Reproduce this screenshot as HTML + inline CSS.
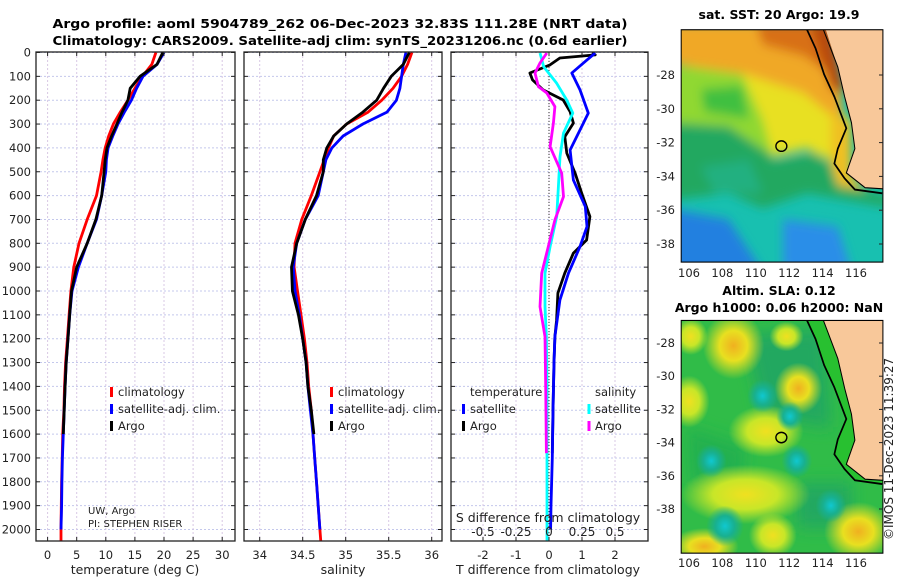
<!DOCTYPE html>
<html><head><meta charset="utf-8">
<style>
html,body{margin:0;padding:0;background:#fff;}
svg{display:block;font-family:"DejaVu Sans","Liberation Sans",sans-serif;}
.t{font-size:11.5px;fill:#222;}
.ti{font-size:12.5px;font-weight:bold;fill:#000;}
</style></head>
<body>
<svg id="fig" width="900" height="580" viewBox="0 0 900 580" xmlns="http://www.w3.org/2000/svg">
<defs>
  <clipPath id="c1"><rect x="36" y="52" width="199" height="489"/></clipPath>
  <clipPath id="c2"><rect x="244" y="52" width="198" height="489"/></clipPath>
  <clipPath id="c3"><rect x="451" y="52" width="197" height="489"/></clipPath>
  <clipPath id="m1c"><rect x="62" y="80" width="590" height="625"/></clipPath>
  <clipPath id="m2c"><rect x="62" y="862" width="590" height="626"/></clipPath>
  <filter id="bl" x="-20%" y="-20%" width="140%" height="140%"><feGaussianBlur stdDeviation="14"/></filter>
  <filter id="bl2" x="-50%" y="-50%" width="200%" height="200%"><feGaussianBlur stdDeviation="22"/></filter>
  <radialGradient id="gy"><stop offset="0" stop-color="#f0b020"/><stop offset="0.45" stop-color="#e8e020"/><stop offset="1" stop-color="#e8e020" stop-opacity="0"/></radialGradient>
  <radialGradient id="gy2"><stop offset="0" stop-color="#f0e020"/><stop offset="0.5" stop-color="#c8e628"/><stop offset="1" stop-color="#c8e628" stop-opacity="0"/></radialGradient>
  <radialGradient id="gc"><stop offset="0" stop-color="#10c8d0"/><stop offset="0.5" stop-color="#18b090"/><stop offset="1" stop-color="#18b090" stop-opacity="0"/></radialGradient>
</defs>

<text class="ti" x="340" y="28" text-anchor="middle" textLength="575" lengthAdjust="spacingAndGlyphs">Argo profile: aoml 5904789_262 06-Dec-2023 32.83S 111.28E (NRT data)</text>
<text class="ti" x="340" y="45" text-anchor="middle" textLength="575" lengthAdjust="spacingAndGlyphs">Climatology: CARS2009. Satellite-adj clim: synTS_20231206.nc (0.6d earlier)</text>

<g id="grids"></g>
<g id="lines"></g>
<g id="axes"></g>

<!-- legends -->
<g>
  <line x1="111.5" y1="387" x2="111.5" y2="397" stroke="#f00" stroke-width="3"/>
  <text class="t" x="118" y="396">climatology</text>
  <line x1="111.5" y1="404" x2="111.5" y2="414" stroke="#00f" stroke-width="3"/>
  <text class="t" x="118" y="413">satellite-adj. clim.</text>
  <line x1="111.5" y1="421" x2="111.5" y2="431" stroke="#000" stroke-width="3"/>
  <text class="t" x="118" y="430">Argo</text>
</g>
<g>
  <line x1="331.5" y1="387" x2="331.5" y2="397" stroke="#f00" stroke-width="3"/>
  <text class="t" x="338" y="396">climatology</text>
  <line x1="331.5" y1="404" x2="331.5" y2="414" stroke="#00f" stroke-width="3"/>
  <text class="t" x="338" y="413">satellite-adj. clim.</text>
  <line x1="331.5" y1="421" x2="331.5" y2="431" stroke="#000" stroke-width="3"/>
  <text class="t" x="338" y="430">Argo</text>
</g>
<g>
  <text class="t" x="470" y="396">temperature</text>
  <text class="t" x="595" y="396">salinity</text>
  <line x1="463.5" y1="404" x2="463.5" y2="414" stroke="#00f" stroke-width="3"/>
  <text class="t" x="470" y="413">satellite</text>
  <line x1="463.5" y1="421" x2="463.5" y2="431" stroke="#000" stroke-width="3"/>
  <text class="t" x="470" y="430">Argo</text>
  <line x1="589" y1="404" x2="589" y2="414" stroke="#0ff" stroke-width="3"/>
  <text class="t" x="595" y="413">satellite</text>
  <line x1="589" y1="421" x2="589" y2="431" stroke="#f0f" stroke-width="3"/>
  <text class="t" x="595" y="430">Argo</text>
</g>
<text x="88" y="514" style="font-size:10px" fill="#222">UW, Argo</text>
<text x="88" y="527" style="font-size:10px" fill="#222">PI: STEPHEN RISER</text>
<text class="t" x="548" y="522" text-anchor="middle" style="font-size:12.5px">S difference from climatology</text>

<text class="t" x="135" y="574" text-anchor="middle" style="font-size:12.5px">temperature (deg C)</text>
<text class="t" x="343" y="574" text-anchor="middle" style="font-size:12.5px">salinity</text>
<text class="t" x="548" y="574" text-anchor="middle" style="font-size:12.5px">T difference from climatology</text>

<!-- MAP 1 : SST -->
<g>
<g transform="translate(660,0) scale(0.34188,0.37175)">
 <g clip-path="url(#m1c)">
  <rect x="62" y="80" width="590" height="625" fill="#18c0b0"/>
  <g filter="url(#bl)">
   <polygon points="20,560 200,590 300,730 20,730" fill="#2080e0"/>
   <polygon points="360,590 520,610 560,730 360,730" fill="#2a8ee8"/>
   <polygon points="20,330 200,340 300,380 330,430 450,410 500,440 560,500 680,530 680,560 430,520 300,560 200,520 20,540" fill="#20a860"/>
   <polygon points="120,450 260,430 300,520 160,520" fill="#20b080"/>
   <polygon points="20,180 250,180 330,300 330,420 200,340 20,330" fill="#90d830"/>
   <polygon points="120,240 240,230 260,320 130,300" fill="#40c040"/>
   <polygon points="230,180 480,180 540,340 520,440 430,400 330,420 300,320" fill="#e8e020"/>
   <polygon points="20,60 470,60 530,260 540,340 420,250 250,200 20,170" fill="#f0a828"/>
   <polygon points="280,60 500,60 530,220 420,150 300,120" fill="#d87018"/>
   <polygon points="440,60 500,60 540,250 500,240" fill="#b84810"/>
   <polygon points="500,300 560,320 560,470 600,510 520,500 500,440" fill="#f0c020"/>
  </g>
  <polygon points="478,60 520,180 540,260 560,330 570,400 545,465 600,505 652,508 700,508 700,60" fill="#f8c89a"/>
  <polyline points="430,80 455,130 480,200 510,260 545,345 520,400 510,440 540,480 570,510 650,520" fill="none" stroke="#000" stroke-width="5"/>
  <polyline points="478,80 520,180 540,260 560,330 570,400 545,465 600,505 652,508" fill="none" stroke="#000" stroke-width="3"/>
  <ellipse cx="355" cy="393" rx="16" ry="14" fill="none" stroke="#000" stroke-width="4"/>
 </g>
 <rect x="62" y="80" width="590" height="625" fill="none" stroke="#000" stroke-width="3"/>
</g>
</g>

<!-- MAP 2 : SLA -->
<g>
<g transform="translate(660,0) scale(0.34188,0.37175)">
 <g clip-path="url(#m2c)">
  <rect x="62" y="862" width="590" height="626" fill="#30bc48"/>
  <g filter="url(#bl2)">
   <polygon points="250,900 480,880 500,1150 300,1120" fill="#22a860"/>
   <polygon points="80,1150 250,1200 240,1320 90,1300" fill="#24b050"/>
   <polygon points="400,1300 560,1300 560,1420 400,1420" fill="#22a860"/>
  </g>
  <ellipse cx="215" cy="930" rx="90" ry="90" fill="url(#gy)"/>
  <ellipse cx="405" cy="1045" rx="70" ry="70" fill="url(#gy)"/>
  <ellipse cx="85" cy="1080" rx="60" ry="70" fill="url(#gy2)"/>
  <ellipse cx="90" cy="905" rx="50" ry="50" fill="url(#gy2)"/>
  <ellipse cx="370" cy="905" rx="50" ry="40" fill="url(#gy2)"/>
  <ellipse cx="310" cy="1160" rx="110" ry="70" fill="url(#gy2)"/>
  <ellipse cx="250" cy="1330" rx="190" ry="80" fill="url(#gy2)"/>
  <ellipse cx="580" cy="1430" rx="100" ry="80" fill="url(#gy)"/>
  <ellipse cx="130" cy="1470" rx="100" ry="50" fill="url(#gy)"/>
  <ellipse cx="330" cy="1440" rx="70" ry="60" fill="url(#gy2)"/>
  <ellipse cx="190" cy="1415" rx="55" ry="55" fill="url(#gc)"/>
  <ellipse cx="300" cy="1065" rx="45" ry="45" fill="url(#gc)"/>
  <ellipse cx="150" cy="1240" rx="45" ry="45" fill="url(#gc)"/>
  <ellipse cx="500" cy="1360" rx="45" ry="45" fill="url(#gc)"/>
  <ellipse cx="380" cy="1120" rx="40" ry="40" fill="url(#gc)"/>
  <ellipse cx="400" cy="1240" rx="45" ry="45" fill="url(#gc)"/>
  <polygon points="430,862 455,912 480,982 510,1042 545,1127 520,1182 510,1222 540,1262 570,1292 652,1302 652,1292 600,1289 545,1249 570,1184 560,1114 540,1044 520,964 478,862" fill="#28c030"/>
  <polygon points="478,862 520,964 540,1044 560,1114 570,1184 545,1249 600,1289 652,1292 700,1292 700,862" fill="#f8c89a"/>
  <polyline points="430,862 455,912 480,982 510,1042 545,1127 520,1182 510,1222 540,1262 570,1292 650,1302" fill="none" stroke="#000" stroke-width="5"/>
  <polyline points="478,862 520,964 540,1044 560,1114 570,1184 545,1249 600,1289 652,1292" fill="none" stroke="#000" stroke-width="3"/>
  <ellipse cx="355" cy="1177" rx="16" ry="14" fill="none" stroke="#000" stroke-width="4"/>
 </g>
 <rect x="62" y="862" width="590" height="626" fill="none" stroke="#000" stroke-width="3"/>
</g>
</g>

<text class="ti" x="779" y="19" text-anchor="middle">sat. SST: 20 Argo: 19.9</text>
<text class="ti" x="779" y="295" text-anchor="middle">Altim. SLA: 0.12</text>
<text class="ti" x="779" y="312" text-anchor="middle">Argo h1000: 0.06 h2000: NaN</text>
<g id="mapticks"></g>
<text class="t" transform="translate(893,540) rotate(-90)" style="font-size:12px">©IMOS 11-Dec-2023 11:39:27</text>

<script>
// ---------- data ----------
const depthTicks = [0,100,200,300,400,500,600,700,800,900,1000,1100,1200,1300,1400,1500,1600,1700,1800,1900,2000];
const tTickVals = [0,5,10,15,20,25,30];
const sTickVals = [34,34.5,35,35.5,36];
const sTickLabels = ["34","34.5","35","35.5","36"];
const dtTickVals = [-2,-1,0,1,2];
const dsTickVals = [-0.5,-0.25,0,0.25,0.5];
const dsTickLabels = ["-0.5","-0.25","0","0.25","0.5"];

const profDepth = [0,50,100,150,200,250,300,350,400,450,500,600,700,800,900,1000,1100,1200,1300,1400,1500,1600,1700,1800,1900,2000,2050];
const tempClim  = [18.6,17.9,16.3,15.0,13.8,12.5,11.3,10.5,9.9,9.5,9.2,8.4,6.8,5.4,4.5,4.0,3.7,3.4,3.1,2.9,2.8,2.6,2.5,2.4,2.35,2.3,2.3];
const tempSat   = [20.0,18.8,16.4,15.3,14.4,13.2,12.1,11.2,10.4,10.1,10.0,9.3,8.4,6.8,5.3,4.2,3.8,3.5,3.2,3.0,2.85,2.7,2.55,2.45,2.4,2.3,null];
const tempArgo  = [19.8,18.8,15.9,14.2,13.8,12.8,11.9,11.0,10.2,9.9,9.7,9.3,8.3,6.8,5.0,4.1,3.8,3.5,3.2,3.0,2.85,2.7,null,null,null,null,null];
const salClim   = [35.77,35.72,35.65,35.55,35.42,35.26,35.01,34.86,34.80,34.75,34.70,34.60,34.49,34.41,34.40,34.44,34.48,34.52,34.55,34.57,34.60,34.62,34.64,34.66,34.68,34.70,34.71];
const salSat    = [35.70,35.67,35.65,35.63,35.59,35.48,35.20,34.97,34.84,34.77,34.74,34.68,34.53,34.43,34.39,34.41,34.46,34.50,34.54,34.56,34.59,34.62,34.64,34.66,34.68,34.70,null];
const salArgo   = [35.74,35.67,35.53,35.44,35.36,35.20,35.01,34.86,34.78,34.74,34.74,34.66,34.53,34.43,34.37,34.38,34.45,34.50,34.54,34.56,34.60,34.63,null,null,null,null,null];

const dTDepth  = [2,10,23,52,86,115,157,199,248,296,353,422,506,590,688,786,841,925,1009,1122,1191,1300,1500,1680];
const dTArgo   = [1.3,1.4,0.33,0.03,-0.58,-0.5,-0.18,0.43,0.64,0.74,0.48,0.54,0.79,0.99,1.24,1.14,0.74,0.48,0.27,0.23,0.18,0.15,0.12,0.1];
const dTSatDepth = [2,31,86,157,254,325,409,535,646,730,814,925,1038,1191,1300,1500,1700,1900,2000];
const dTSat    = [1.4,1.15,0.69,0.94,1.19,0.94,0.64,0.74,1.1,1.15,0.94,0.59,0.33,0.18,0.15,0.12,0.1,0.06,0.05];
const dSSatDepth = [2,60,129,199,254,338,437,577,688,814,925,1066,1191,1400,1700,2050];
const dSSat    = [-0.068,-0.04,0.058,0.134,0.18,0.11,0.083,0.07,0.058,0.008,-0.03,-0.03,-0.02,-0.015,-0.015,-0.015];
const dSArgoDepth = [2,44,86,143,170,227,296,395,506,604,702,814,925,1066,1191,1400,1680];
const dSArgo   = [-0.017,-0.068,-0.106,-0.08,-0.017,0.045,0.033,0.008,0.096,0.11,0.045,-0.005,-0.055,-0.068,-0.03,-0.025,-0.02];

const latTicks = [-28,-30,-32,-34,-36,-38];
const lonTicks = [106,108,110,112,114,116];

// ---------- scales ----------
const Y0 = 52, Y1 = 541;
const yD = d => 52.5 + d * 0.2385;
const xT = t => 47.6 + t * 5.82;
const xS = s => 259.7 + (s - 34) * 86;
const xDT = t => 549 + t * 33;
const xDS = s => 549 + s * 132;
const panels = [{x0:36,x1:235},{x0:244,x1:442},{x0:451,x1:648}];

const NS = "http://www.w3.org/2000/svg";
function mk(tag, attrs, parent){
  const e = document.createElementNS(NS, tag);
  for (const k in attrs) e.setAttribute(k, attrs[k]);
  parent.appendChild(e);
  return e;
}
const grids = document.getElementById('grids');
const linesG = document.getElementById('lines');
const axes = document.getElementById('axes');

// grids
panels.forEach((p) => {
  depthTicks.forEach(d => {
    const l = mk('line', {x1:p.x0, x2:p.x1, y1:yD(d), y2:yD(d), stroke:'#c4c8ec', 'stroke-width':1, 'stroke-dasharray':'2,2'}, grids);
    
    
  });
});
function vgrid(vals, fx){
  vals.forEach(v => {
    const l = mk('line', {x1:fx(v), x2:fx(v), y1:Y0, y2:Y1, stroke:'#d8c8e4', 'stroke-width':1, 'stroke-dasharray':'2,2'}, grids);
    
    
  });
}
vgrid(tTickVals, xT); vgrid(sTickVals, xS); vgrid(dtTickVals, xDT);
const zl = mk('line', {x1:xDT(0), x2:xDT(0), y1:Y0, y2:Y1, stroke:'#333', 'stroke-width':1, 'stroke-dasharray':'1,2'}, grids);



// lines
function series(vals, depths, fx, color, clip, name){
  let d = '', pen = false;
  vals.forEach((v, i) => {
    if (v === null || v === undefined){ pen = false; return; }
    d += (pen ? 'L' : 'M') + fx(v).toFixed(1) + ',' + yD(depths[i]).toFixed(1);
    pen = true;
  });
  const p = mk('path', {d:d, fill:'none', stroke:color, 'stroke-width':2.8, 'stroke-linejoin':'round', 'clip-path':'url(#' + clip + ')'}, linesG);
  
  
}
series(tempClim, profDepth, xT, '#ff0000', 'c1', 'temperature-climatology-line');
series(tempSat, profDepth, xT, '#0000ff', 'c1', 'temperature-satellite-line');
series(tempArgo, profDepth, xT, '#000000', 'c1', 'temperature-argo-line');
series(salClim, profDepth, xS, '#ff0000', 'c2', 'salinity-climatology-line');
series(salSat, profDepth, xS, '#0000ff', 'c2', 'salinity-satellite-line');
series(salArgo, profDepth, xS, '#000000', 'c2', 'salinity-argo-line');
series(dTArgo, dTDepth, xDT, '#000000', 'c3', 't-diff-argo-line');
series(dTSat, dTSatDepth, xDT, '#0000ff', 'c3', 't-diff-satellite-line');
series(dSSat, dSSatDepth, xDS, '#00ffff', 'c3', 's-diff-satellite-line');
series(dSArgo, dSArgoDepth, xDS, '#ff00ff', 'c3', 's-diff-argo-line');

// axes boxes and ticks
panels.forEach((p, i) => {
  const r = mk('rect', {x:p.x0, y:Y0, width:p.x1-p.x0, height:Y1-Y0, fill:'none', stroke:'#222', 'stroke-width':1.3}, axes);
  
  
  depthTicks.forEach(d => {
    mk('line', {x1:p.x0, x2:p.x0+4, y1:yD(d), y2:yD(d), stroke:'#222'}, axes);
    mk('line', {x1:p.x1-4, x2:p.x1, y1:yD(d), y2:yD(d), stroke:'#222'}, axes);
  });
});
depthTicks.forEach(d => {
  const t = mk('text', {x:31, y:yD(d)+4, 'text-anchor':'end', class:'t'}, axes);
  t.textContent = d;
  
  
});
function xticks(vals, labels, fx, y){
  vals.forEach((v, i) => {
    mk('line', {x1:fx(v), x2:fx(v), y1:Y1-4, y2:Y1, stroke:'#222'}, axes);
    mk('line', {x1:fx(v), x2:fx(v), y1:Y0, y2:Y0+4, stroke:'#222'}, axes);
    const t = mk('text', {x:fx(v), y:y, 'text-anchor':'middle', class:'t'}, axes);
    t.textContent = labels[i];
    
    
  });
}
xticks(tTickVals, tTickVals.map(String), xT, 559);
xticks(sTickVals, sTickLabels, xS, 559);
xticks(dtTickVals, dtTickVals.map(String), xDT, 559);
dsTickVals.forEach((v, i) => {
  const t = mk('text', {x:xDS(v), y:536, 'text-anchor':'middle', class:'t', style:'font-size:12px'}, axes);
  t.textContent = dsTickLabels[i];
  
  
});

// map ticks
const mt = document.getElementById('mapticks');
const lat1 = la => 51.3 + (-28 - la) * -16.9 * -1;
const lat2 = la => 343 + (-28 - la) * 16.6;
const lon = lo => 689 + (lo - 106) * 16.7;
latTicks.forEach(la => {
  const y1 = 75 + (-28 - la) * 16.9;
  const y2 = lat2(la);
  [y1, y2].forEach(y => {
    const t = mk('text', {x:675, y:y+4, 'text-anchor':'end', class:'t'}, mt);
    t.textContent = la;
    
    
    mk('line', {x1:879, x2:883, y1:y, y2:y, stroke:'#222'}, mt);
  });
});
lonTicks.forEach(lo => {
  [277, 567].forEach(y => {
    const t = mk('text', {x:lon(lo), y:y, 'text-anchor':'middle', class:'t'}, mt);
    t.textContent = lo;
    
    
  });
});
</script>
</svg>
</body></html>
